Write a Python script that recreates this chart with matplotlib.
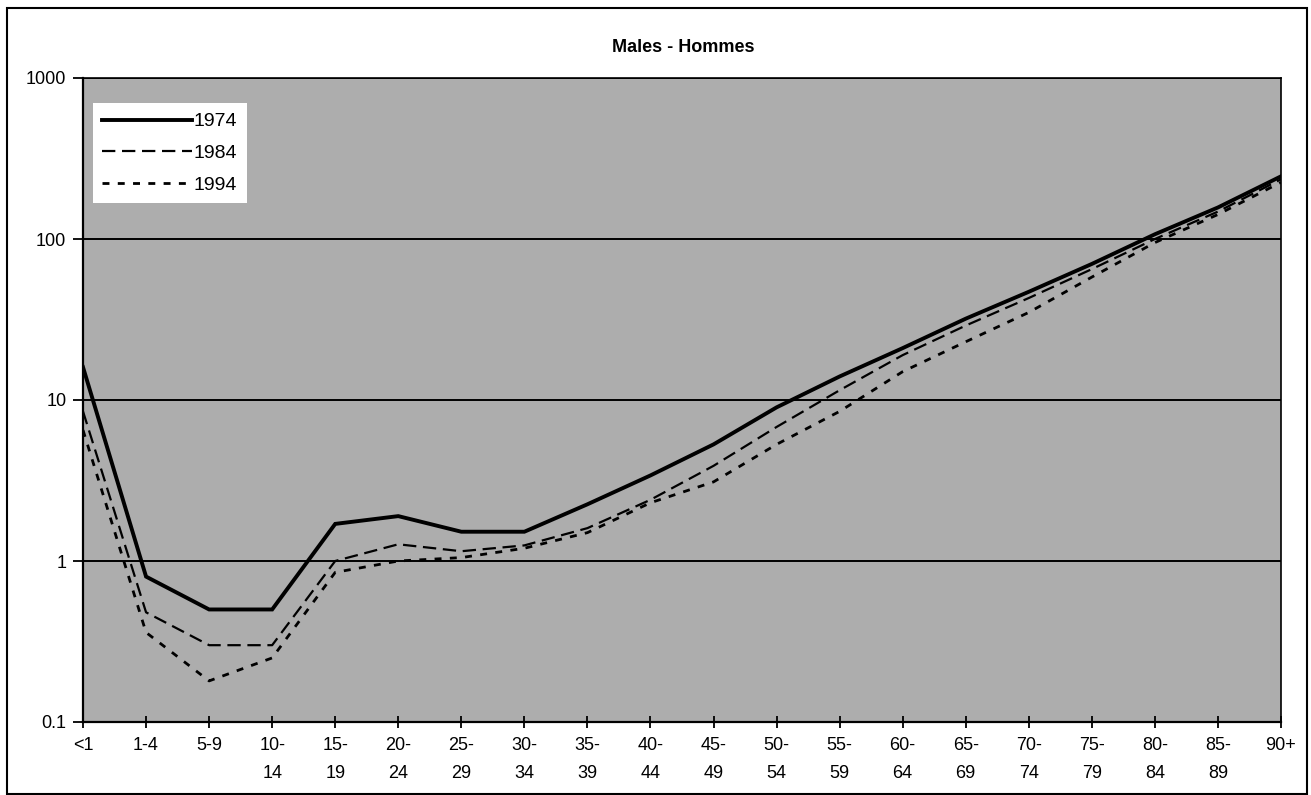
import matplotlib
matplotlib.use("Agg")
import matplotlib.pyplot as plt
from matplotlib.patches import Rectangle
from matplotlib.ticker import FixedLocator, NullLocator
import numpy as np

plt.rcParams['font.family'] = ['Liberation Sans', 'DejaVu Sans']

# age groups
ages = ['<1', '1-4', '5-9', '10-\n14', '15-\n19', '20-\n24', '25-\n29', '30-\n34',
        '35-\n39', '40-\n44', '45-\n49', '50-\n54', '55-\n59', '60-\n64', '65-\n69',
        '70-\n74', '75-\n79', '80-\n84', '85-\n89', '90+']

# rates (log scale)
rate_1974 = [16, 0.8, 0.5, 0.5, 1.7, 1.9, 1.52, 1.52, 2.25, 3.4, 5.3, 9.0,
             14, 21, 32, 47, 70, 107, 157, 245]
rate_1984 = [8.5, 0.48, 0.3, 0.3, 1.0, 1.27, 1.15, 1.25, 1.6, 2.4, 3.9, 6.8,
             11.5, 19, 29, 43, 65, 100, 148, 235]
rate_1994 = [6.5, 0.36, 0.18, 0.25, 0.85, 1.0, 1.05, 1.2, 1.5, 2.3, 3.1, 5.3,
             8.5, 15, 23, 35, 58, 95, 142, 225]

yticks = [0.1, 1, 10, 100, 1000]
ytick_labels = ['0.1', '1', '10', '100', '1000']

W, H = 1311, 795
fig = plt.figure(figsize=(W / 100, H / 100), dpi=100)
ax = fig.add_axes([83 / W, 1 - 722 / H, 1198 / W, 644 / H])

x = np.arange(len(ages))
ax.set_facecolor('#adadad')
ax.set_yscale('log')
ax.set_ylim(0.1, 1000)
ax.set_xlim(0, len(ages) - 1)

ax.yaxis.set_major_locator(FixedLocator(yticks))
ax.yaxis.set_minor_locator(NullLocator())
ax.set_yticklabels(ytick_labels)
ax.grid(True, axis='y', which='major', color='black', lw=1.4)
ax.set_axisbelow(True)

ax.set_xticks(x)
ax.set_xticklabels(ages, linespacing=1.9, va='top')
ax.tick_params(axis='x', direction='inout', length=9, width=1.3, pad=6, labelsize=13)
ax.tick_params(axis='y', direction='out', length=7, width=1.3, pad=5, labelsize=13)

ax.plot(x, rate_1974, color='black', lw=2.8, label='1974', solid_joinstyle='miter')
ax.plot(x, rate_1984, color='black', lw=1.6, dashes=(6, 3), label='1984')
ax.plot(x, rate_1994, color='black', lw=2.0, dashes=(2.5, 3), label='1994')

for side in ['left', 'bottom']:
    ax.spines[side].set_linewidth(1.6)
for side in ['top', 'right']:
    ax.spines[side].set_linewidth(1.2)

leg = ax.legend(loc='upper left', bbox_to_anchor=(0.008, 0.961), borderaxespad=0,
                handlelength=4.6, handletextpad=0.1, labelspacing=0.72,
                fontsize=14, fancybox=False, framealpha=1, borderpad=0.5)
leg.get_frame().set_facecolor('white')
leg.get_frame().set_edgecolor('none')

fig.text(0.521, 1 - 47 / H, 'Males - Hommes', ha='center', va='center',
         fontsize=13, fontweight='bold')

# outer frame round the whole chart
fig.patches.append(Rectangle((7 / W, 1 / H), 1300 / W, 786 / H, transform=fig.transFigure,
                             fill=False, edgecolor='black', lw=1.5))

fig.savefig('out.png', dpi=100)
